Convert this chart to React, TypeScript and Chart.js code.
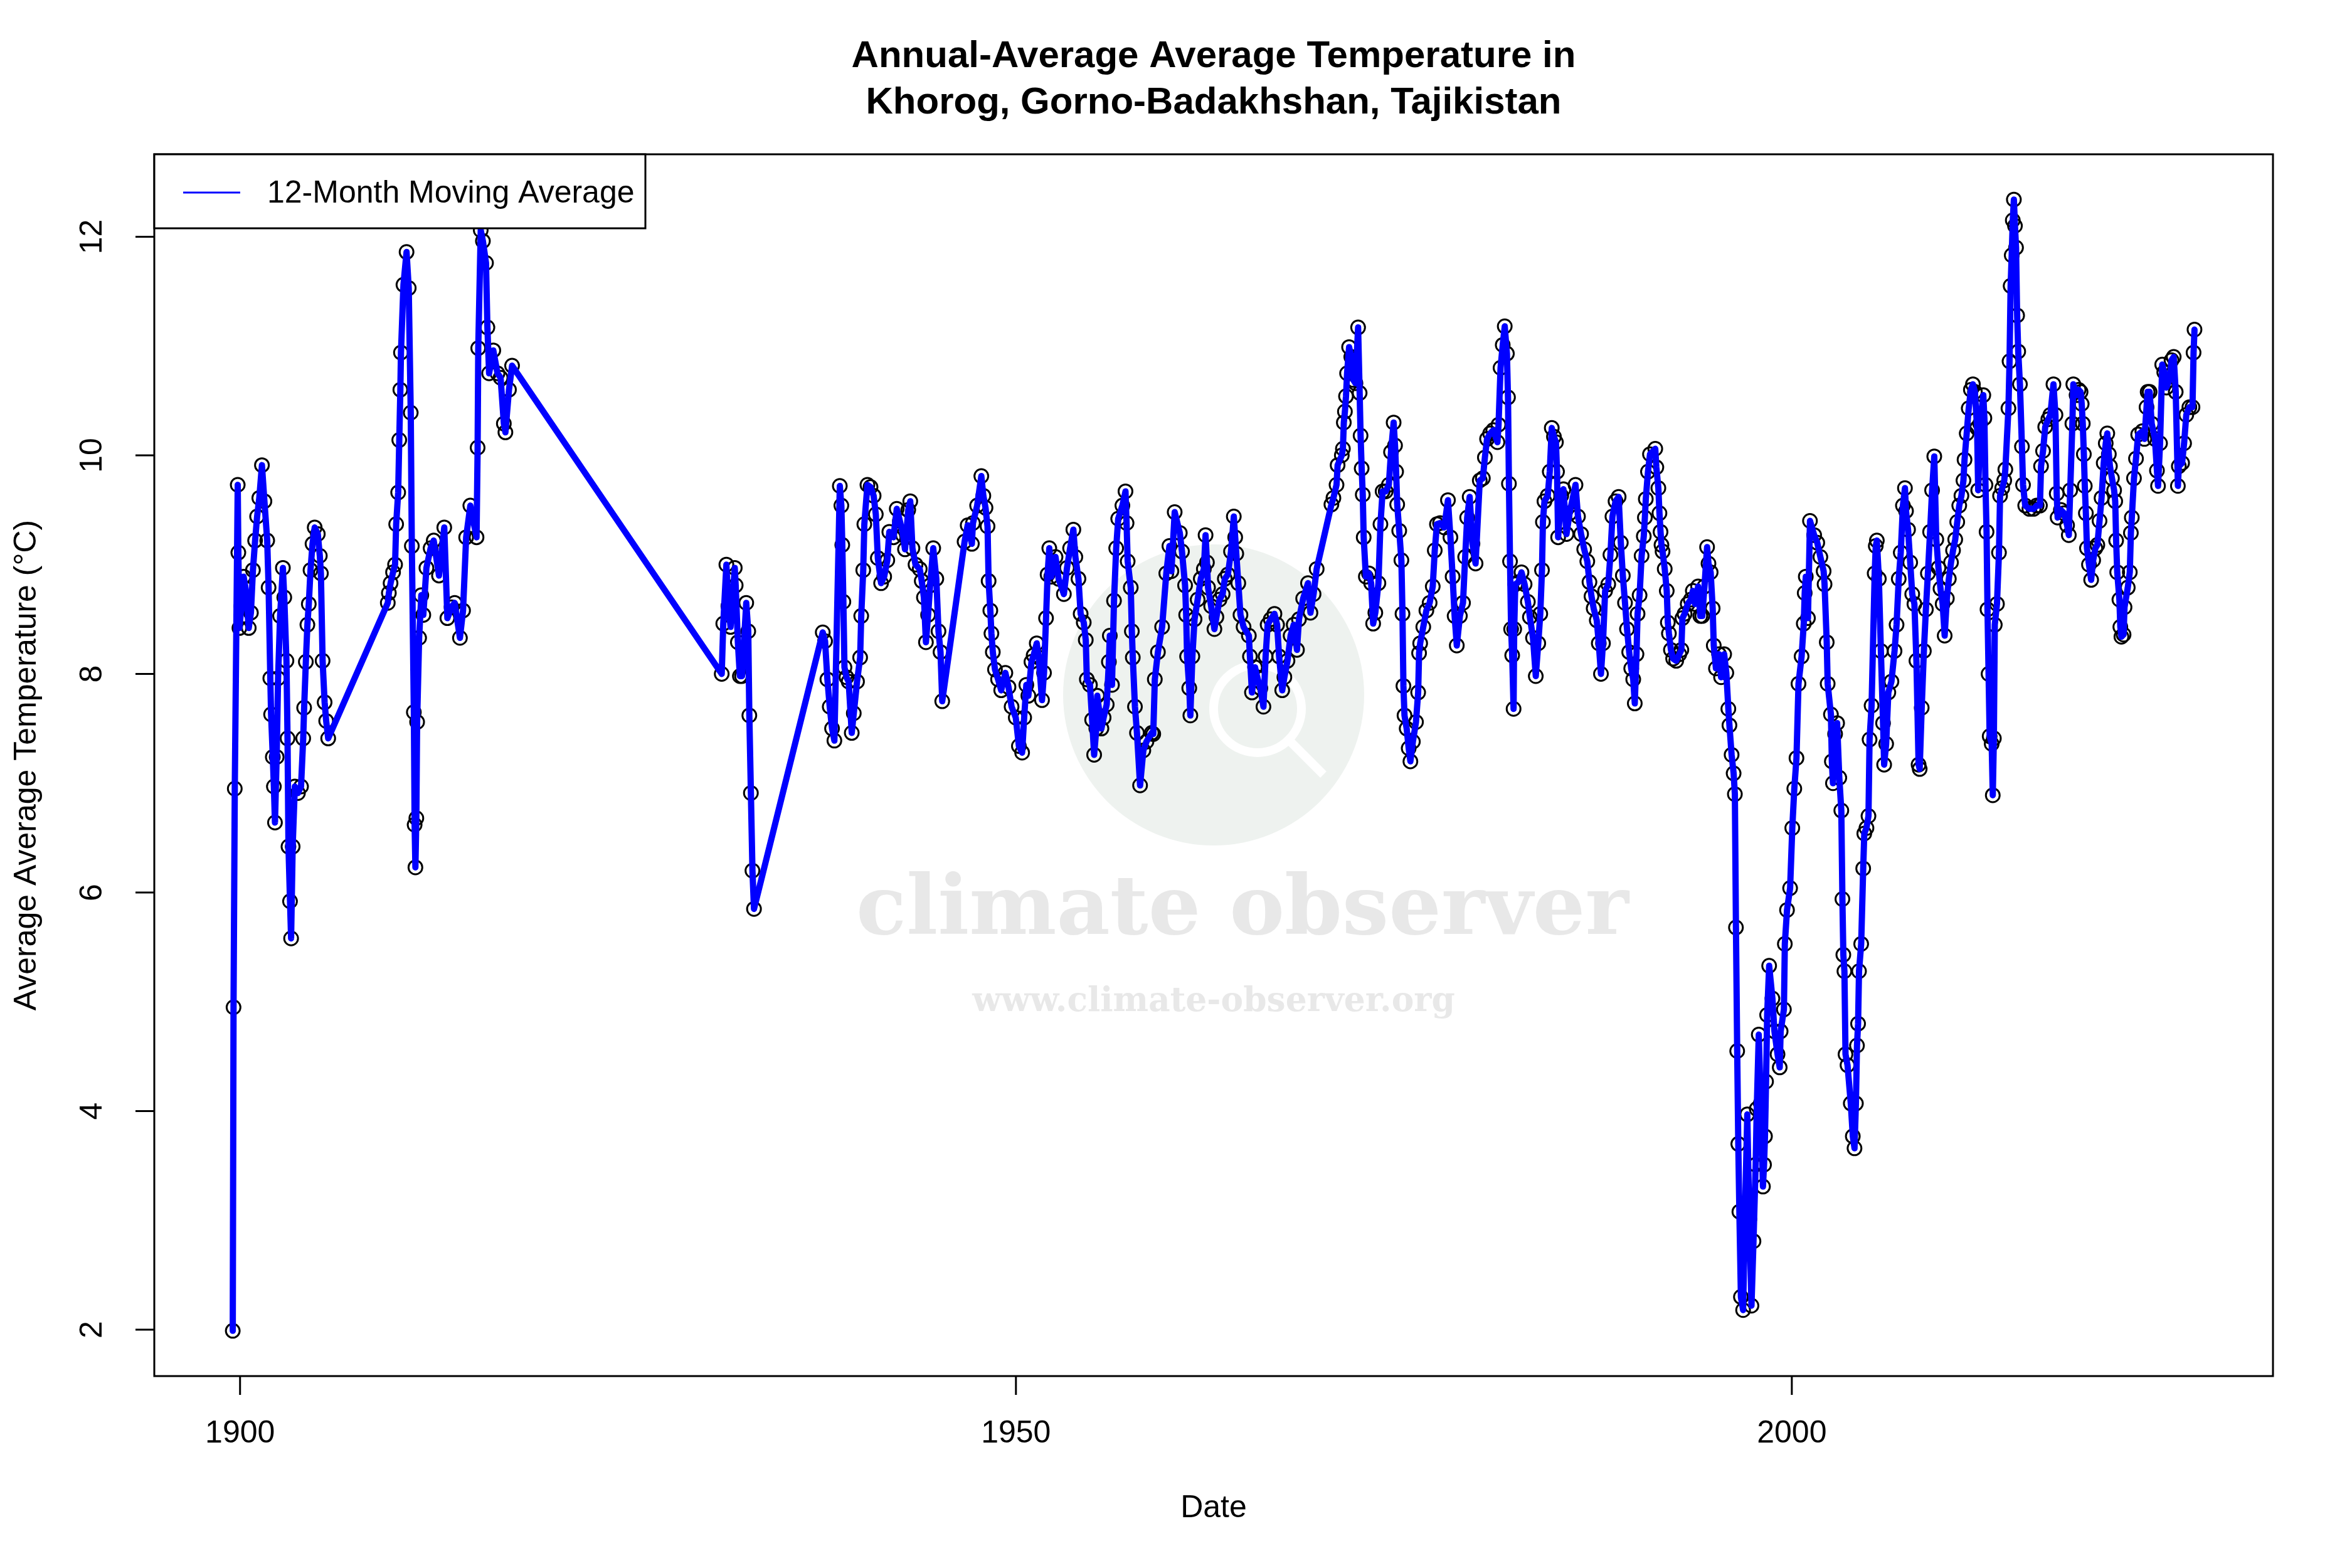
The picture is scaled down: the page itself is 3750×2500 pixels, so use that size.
import { useEffect, useRef } from 'react';
import { Chart, registerables } from 'chart.js';

Chart.register(...registerables);

// ---------- data (decimal year, 12-month moving average in °C) ----------
const dates1899 = [
  1899.53, 1899.58, 1899.66, 1899.85, 1899.89, 1899.96, 1900.09, 1900.23, 1900.36, 1900.56,
  1900.70, 1900.83, 1900.97, 1901.10, 1901.24, 1901.41, 1901.57, 1901.75, 1901.84, 1901.95,
  1902.00, 1902.11, 1902.18, 1902.25, 1902.36, 1902.45, 1902.58, 1902.76, 1902.85, 1902.99,
  1903.06, 1903.12, 1903.22, 1903.29, 1903.39, 1903.53, 1903.73, 1903.93, 1904.07, 1904.13,
  1904.24, 1904.34, 1904.43, 1904.54, 1904.67, 1904.81, 1905.01, 1905.14, 1905.21, 1905.32,
  1905.45, 1905.55, 1905.68,
];
const temps1899 = [
  1.99, 4.95, 6.95, 9.73, 9.11, 8.42, 8.62, 8.89, 8.78, 8.42,
  8.56, 8.95, 9.22, 9.44, 9.61, 9.91, 9.58, 9.22, 8.79, 7.96,
  7.63, 7.24, 6.97, 6.64, 7.24, 7.96, 8.53, 8.97, 8.70, 8.12,
  7.41, 6.42, 5.92, 5.58, 6.42, 6.97, 6.91, 6.97, 7.41, 7.69,
  8.11, 8.45, 8.64, 8.95, 9.19, 9.34, 9.28, 9.08, 8.92, 8.12,
  7.74, 7.57, 7.41,
];

const dates1909 = [
  1909.52, 1909.59, 1909.70, 1909.86, 1909.99, 1910.06, 1910.19, 1910.26, 1910.33, 1910.37,
  1910.53, 1910.73, 1910.87, 1911.00, 1911.07, 1911.20, 1911.25, 1911.30, 1911.36, 1911.41,
  1911.54, 1911.68, 1911.81, 1912.01, 1912.28, 1912.48, 1912.82, 1913.16, 1913.36, 1913.63,
  1913.83, 1914.17, 1914.37, 1914.57, 1914.84, 1915.24, 1915.31, 1915.35, 1915.51, 1915.65,
  1915.85, 1915.94, 1916.05, 1916.32, 1916.59, 1916.79, 1917.00, 1917.10, 1917.33, 1917.53,
];
const temps1909 = [
  8.65, 8.74, 8.83, 8.93, 9.00, 9.37, 9.66, 10.14, 10.60, 10.94,
  11.56, 11.86, 11.53, 10.39, 9.17, 7.65, 6.62, 6.23, 6.68, 7.56,
  8.33, 8.72, 8.54, 8.97, 9.15, 9.22, 8.90, 9.34, 8.51, 8.61,
  8.65, 8.33, 8.58, 9.25, 9.54, 9.25, 10.07, 10.98, 12.06, 11.96,
  11.76, 11.17, 10.75, 10.96, 10.75, 10.71, 10.29, 10.21, 10.60, 10.82,
];

const dates1931 = [
  1931.04, 1931.14, 1931.34, 1931.47, 1931.61, 1931.88, 1931.94, 1932.08, 1932.21, 1932.35,
  1932.62, 1932.75, 1932.82, 1932.92, 1933.02, 1933.12,
];
const temps1931 = [
  8.00, 8.46, 9.00, 8.62, 8.43, 8.97, 8.81, 8.29, 7.98, 7.98,
  8.65, 8.39, 7.62, 6.91, 6.20, 5.85,
];

const dates1937 = [
  1937.55, 1937.70, 1937.85, 1938.00, 1938.15, 1938.30, 1938.65, 1938.75, 1938.81, 1938.88,
  1938.95, 1939.08, 1939.22, 1939.42, 1939.55, 1939.76, 1939.96, 1940.03, 1940.16, 1940.23,
  1940.43, 1940.63, 1940.83, 1940.97, 1941.10, 1941.31, 1941.51, 1941.71, 1941.84, 1942.11,
  1942.32, 1942.52, 1942.72, 1942.85, 1943.06, 1943.19, 1943.33, 1943.53, 1943.80, 1943.93,
  1944.07, 1944.20, 1944.34, 1944.47, 1944.67, 1944.87, 1945.01, 1945.14, 1945.25,
];
const temps1937 = [
  8.38, 8.30, 7.95, 7.70, 7.50, 7.39, 9.72, 9.54, 9.18, 8.66,
  8.06, 7.97, 7.93, 7.46, 7.64, 7.93, 8.15, 8.53, 8.95, 9.37,
  9.73, 9.71, 9.63, 9.46, 9.06, 8.83, 8.89, 9.04, 9.30, 9.25,
  9.51, 9.40, 9.27, 9.14, 9.50, 9.58, 9.15, 9.00, 8.96, 8.85,
  8.70, 8.29, 8.54, 8.81, 9.15, 8.87, 8.39, 8.20, 7.75,
];

const dates1946 = [
  1946.69, 1946.89, 1947.16, 1947.23, 1947.50, 1947.77, 1947.90, 1948.04, 1948.17, 1948.24,
  1948.35, 1948.42, 1948.51, 1948.65, 1948.85, 1949.05, 1949.32, 1949.52, 1949.72, 1949.99,
  1950.19, 1950.40, 1950.53, 1950.67, 1950.80, 1951.00, 1951.14, 1951.34, 1951.47, 1951.68,
  1951.81, 1951.94, 1952.04, 1952.15, 1952.28, 1952.55, 1952.75, 1953.09, 1953.29, 1953.49,
  1953.70, 1953.83, 1954.03, 1954.17, 1954.37, 1954.50, 1954.57, 1954.77, 1954.91, 1955.04,
  1955.18, 1955.24, 1955.51, 1955.65, 1955.85, 1955.99, 1956.05, 1956.19, 1956.32, 1956.46,
  1956.59, 1956.86, 1957.06, 1957.13, 1957.20, 1957.40, 1957.47, 1957.53, 1957.67, 1957.80,
  1958.00, 1958.21, 1958.41, 1958.75, 1958.85, 1958.95, 1959.15, 1959.42, 1959.69, 1959.89,
  1960.02, 1960.23, 1960.56, 1960.70, 1960.90, 1960.97, 1961.03, 1961.17, 1961.24, 1961.37,
  1961.51, 1961.71, 1961.91, 1962.11, 1962.22, 1962.31, 1962.38, 1962.58, 1962.79, 1962.92,
  1963.12, 1963.32, 1963.46, 1963.66, 1963.86, 1964.04, 1964.13, 1964.20, 1964.33, 1964.47,
  1964.67, 1965.01, 1965.08, 1965.21, 1965.41, 1965.55, 1965.75, 1965.95, 1966.09, 1966.22,
  1966.42, 1966.66, 1966.83, 1966.96, 1967.16, 1967.30, 1967.50, 1967.70, 1967.90, 1968.11,
  1968.24, 1968.51, 1968.82, 1968.98, 1969.18, 1969.38,
];
const temps1946 = [
  9.21, 9.36, 9.19, 9.38, 9.54, 9.81, 9.63, 9.52, 9.35, 8.85,
  8.58, 8.37, 8.20, 8.04, 7.95, 7.85, 8.01, 7.88, 7.70, 7.60,
  7.34, 7.28, 7.60, 7.90, 7.80, 8.11, 8.17, 8.28, 8.15, 7.76,
  8.01, 8.51, 8.91, 9.15, 8.89, 9.07, 8.87, 8.73, 8.97, 9.15,
  9.32, 9.07, 8.87, 8.55, 8.47, 8.31, 7.95, 7.90, 7.58, 7.26,
  7.50, 7.80, 7.50, 7.60, 7.72, 8.11, 8.35, 7.90, 8.67, 9.15,
  9.42, 9.54, 9.67, 9.38, 9.03, 8.79, 8.39, 8.15, 7.70, 7.46,
  6.98, 7.30, 7.38, 7.46, 7.45, 7.95, 8.20, 8.43, 8.92, 9.17,
  8.94, 9.48, 9.29, 9.12, 8.81, 8.54, 8.16, 7.87, 7.62, 8.16,
  8.50, 8.68, 8.87, 8.96, 9.27, 9.02, 8.79, 8.62, 8.41, 8.52,
  8.68, 8.73, 8.87, 8.91, 9.12, 9.44, 9.25, 9.10, 8.83, 8.54,
  8.43, 8.35, 8.16, 7.83, 8.06, 7.97, 7.87, 7.70, 8.16, 8.45,
  8.50, 8.55, 8.45, 8.16, 7.85, 7.97, 8.12, 8.35, 8.45, 8.22,
  8.50, 8.69, 8.83, 8.56, 8.73, 8.96,
];

const dates1970 = [
  1970.33, 1970.46, 1970.66, 1970.73, 1971.00, 1971.07, 1971.13, 1971.20, 1971.27, 1971.34,
  1971.47, 1971.61, 1971.74, 1971.88, 1972.05, 1972.15, 1972.21, 1972.28, 1972.35, 1972.41,
  1972.55, 1972.75, 1972.89, 1973.02, 1973.16, 1973.36, 1973.49, 1973.63, 1973.83, 1974.03,
  1974.17, 1974.34, 1974.43, 1974.50, 1974.57, 1974.70, 1974.84, 1974.91, 1974.97, 1975.04,
  1975.18, 1975.31, 1975.42, 1975.58, 1975.78, 1975.92, 1975.98, 1976.05, 1976.25, 1976.45,
  1976.66, 1976.86, 1976.99, 1977.13, 1977.33, 1977.60, 1977.84, 1978.00, 1978.14, 1978.27,
  1978.41, 1978.61, 1978.81, 1978.95, 1979.08, 1979.24, 1979.42, 1979.62, 1979.89, 1980.09,
  1980.22, 1980.36, 1980.56, 1980.76, 1981.03, 1981.10, 1981.23, 1981.37, 1981.50, 1981.64,
  1981.71, 1981.77, 1981.84, 1981.91, 1981.98, 1982.07, 1982.11, 1982.18, 1982.38, 1982.58,
  1982.78, 1982.99, 1983.12, 1983.32, 1983.50, 1983.66, 1983.79, 1983.90, 1983.96, 1984.06,
  1984.27, 1984.40, 1984.53, 1984.67, 1984.80, 1984.87, 1984.94, 1985.14, 1985.28, 1985.48,
  1985.68, 1986.06, 1986.22, 1986.42, 1986.62, 1986.82, 1986.96, 1987.09, 1987.23, 1987.43,
  1987.56, 1987.70, 1987.83, 1987.97, 1988.17, 1988.31, 1988.44, 1988.64, 1988.84, 1988.98,
  1989.11, 1989.25, 1989.38, 1989.52, 1989.65, 1989.78, 1989.88, 1989.99, 1990.06, 1990.19,
  1990.32, 1990.46, 1990.53, 1990.59, 1990.73, 1990.86, 1991.20, 1991.27, 1991.40, 1991.47,
  1991.54, 1991.60, 1991.67, 1991.81, 1991.94, 1992.01, 1992.08, 1992.21, 1992.35, 1992.55,
  1992.75, 1992.88, 1992.95, 1993.09, 1993.29, 1993.49, 1993.62, 1993.76, 1993.96, 1994.10,
  1994.23, 1994.37, 1994.54, 1994.63, 1994.77, 1994.90, 1994.97, 1995.11, 1995.31, 1995.44,
  1995.64, 1995.78, 1995.91, 1995.98, 1996.12, 1996.25,
];
const temps1970 = [
  9.55, 9.61, 9.73, 9.91, 10.00, 10.06, 10.30, 10.40, 10.54, 10.75,
  10.99, 10.90, 10.69, 10.66, 11.17, 10.57, 10.18, 9.88, 9.64, 9.25,
  8.89, 8.92, 8.83, 8.46, 8.56, 8.83, 9.37, 9.67, 9.67, 9.73,
  10.03, 10.30, 10.09, 9.85, 9.55, 9.31, 9.04, 8.55, 7.89, 7.62,
  7.50, 7.32, 7.20, 7.38, 7.56, 7.83, 8.19, 8.28, 8.43, 8.58,
  8.65, 8.80, 9.13, 9.37, 9.38, 9.34, 9.59, 9.25, 8.89, 8.53,
  8.26, 8.53, 8.65, 9.07, 9.43, 9.62, 9.19, 9.01, 9.77, 9.79,
  9.98, 10.15, 10.20, 10.23, 10.12, 10.28, 10.80, 11.01, 11.18, 10.93,
  10.53, 9.74, 9.03, 8.41, 8.17, 7.68, 8.41, 8.82, 8.84, 8.93,
  8.82, 8.66, 8.52, 8.33, 7.98, 8.28, 8.55, 8.95, 9.39, 9.58,
  9.63, 9.85, 10.25, 10.17, 10.12, 9.85, 9.25, 9.63, 9.69, 9.28,
  9.47, 9.73, 9.44, 9.28, 9.14, 9.03, 8.84, 8.71, 8.60, 8.49,
  8.28, 8.00, 8.28, 8.76, 8.82, 9.09, 9.44, 9.58, 9.62, 9.20,
  8.90, 8.65, 8.41, 8.20, 8.05, 7.95, 7.73, 8.18, 8.55, 8.72,
  9.08, 9.26, 9.43, 9.60, 9.85, 10.01, 10.06, 9.89, 9.70, 9.47,
  9.30, 9.18, 9.12, 8.96, 8.76, 8.47, 8.37, 8.22, 8.14, 8.12,
  8.18, 8.22, 8.51, 8.55, 8.64, 8.68, 8.76, 8.64, 8.80, 8.53,
  8.53, 8.80, 9.16, 9.01, 8.93, 8.60, 8.26, 8.05, 8.18, 7.97,
  8.18, 8.01, 7.68, 7.53, 7.26, 7.09,
];

const dates1996 = [
  1996.33, 1996.40, 1996.48, 1996.55, 1996.62, 1996.72, 1996.86, 1996.99, 1997.13, 1997.26,
  1997.40, 1997.53, 1997.67, 1997.74, 1997.87, 1998.00, 1998.14, 1998.21, 1998.27, 1998.34,
  1998.41, 1998.54, 1998.75, 1998.88, 1999.08, 1999.22, 1999.28, 1999.49, 1999.55, 1999.69,
  1999.89, 2000.03, 2000.16, 2000.30, 2000.43, 2000.63, 2000.77, 2000.83, 2000.90, 2001.04,
  2001.17, 2001.44, 2001.64, 2001.84, 2002.05, 2002.11, 2002.25, 2002.31, 2002.52, 2002.58,
  2002.65, 2002.79, 2002.92, 2003.06, 2003.19, 2003.26, 2003.32, 2003.39, 2003.46, 2003.59,
  2003.80, 2003.93, 2004.04, 2004.13, 2004.20, 2004.27, 2004.33, 2004.47, 2004.60, 2004.67,
  2004.81, 2004.94, 2005.01, 2005.14, 2005.34, 2005.41, 2005.48,
];
const temps1996 = [
  6.90, 5.68, 4.55, 3.70, 3.08, 2.30, 2.18, 3.11, 3.97, 3.01,
  2.22, 2.81, 3.51, 4.02, 4.70, 4.07, 3.31, 3.51, 3.77, 4.27,
  4.88, 5.33, 5.03, 4.73, 4.52, 4.40, 4.73, 4.93, 5.53, 5.84,
  6.04, 6.59, 6.95, 7.23, 7.91, 8.16, 8.46, 8.74, 8.89, 8.51,
  9.40, 9.27, 9.20, 9.07, 8.94, 8.82, 8.29, 7.91, 7.63, 7.20,
  7.00, 7.45, 7.55, 7.05, 6.75, 5.94, 5.43, 5.28, 4.52, 4.42,
  4.07, 3.77, 3.66, 4.07, 4.60, 4.80, 5.28, 5.53, 6.22, 6.54,
  6.59, 6.70, 7.40, 7.71, 8.92, 9.17, 9.22,
];

const dates2005 = [
  2005.61, 2005.74, 2005.88, 2005.95, 2006.08, 2006.22, 2006.42, 2006.62, 2006.75, 2006.89,
  2007.02, 2007.16, 2007.29, 2007.36, 2007.49, 2007.63, 2007.76, 2007.90, 2008.03, 2008.17,
  2008.24, 2008.37, 2008.51, 2008.64, 2008.77, 2008.91, 2009.04, 2009.18, 2009.31, 2009.45,
  2009.58, 2009.72, 2009.85, 2009.99, 2010.12, 2010.26, 2010.39, 2010.53, 2010.66, 2010.79,
  2010.93, 2011.06, 2011.13, 2011.27, 2011.40, 2011.54, 2011.67, 2011.80, 2011.94, 2012.01,
  2012.14, 2012.34, 2012.41, 2012.48, 2012.55, 2012.61, 2012.68, 2012.75, 2012.88, 2012.95,
  2013.02, 2013.08, 2013.22, 2013.35, 2013.42, 2013.56, 2013.69, 2013.76, 2013.96, 2014.03,
  2014.10, 2014.17, 2014.24, 2014.31, 2014.38, 2014.45, 2014.52, 2014.59, 2014.70, 2014.83,
  2014.90, 2015.04, 2015.31, 2015.58, 2015.78, 2015.99, 2016.06, 2016.19, 2016.33, 2016.53,
  2016.66, 2016.86, 2016.99, 2017.07, 2017.13, 2017.34, 2017.54, 2017.74, 2017.85, 2017.94,
  2018.08, 2018.14, 2018.35, 2018.48, 2018.61, 2018.68, 2018.75, 2018.82, 2018.88, 2018.95,
  2019.02, 2019.15, 2019.29, 2019.42, 2019.56, 2019.69, 2019.83, 2019.96, 2020.10, 2020.23,
  2020.33, 2020.43, 2020.50, 2020.63, 2020.77, 2020.84, 2020.90, 2020.97, 2021.11, 2021.17,
  2021.24, 2021.38, 2021.44, 2021.65, 2021.78, 2021.85, 2021.91, 2022.05, 2022.18, 2022.32,
  2022.59, 2022.72, 2022.86, 2022.93, 2023.06, 2023.19, 2023.40, 2023.53, 2023.60, 2023.73,
  2023.87, 2024.00, 2024.14, 2024.34, 2024.47, 2024.61, 2024.74, 2024.88, 2024.94, 2025.15,
  2025.28, 2025.42, 2025.62, 2025.82, 2025.89, 2025.95,
];
const temps2005 = [
  8.87, 8.21, 7.55, 7.17, 7.36, 7.83, 7.93, 8.21, 8.45, 8.87,
  9.11, 9.54, 9.70, 9.49, 9.32, 9.02, 8.73, 8.64, 8.12, 7.17,
  7.13, 7.69, 8.21, 8.59, 8.92, 9.30, 9.68, 9.99, 9.23, 8.97,
  8.78, 8.64, 8.35, 8.69, 8.87, 9.02, 9.13, 9.23, 9.39, 9.54,
  9.63, 9.77, 9.96, 10.20, 10.43, 10.60, 10.65, 10.58, 10.25, 9.68,
  10.29, 10.55, 10.34, 9.73, 9.30, 8.59, 8.00, 7.43, 7.36, 6.89,
  7.41, 8.45, 8.64, 9.11, 9.63, 9.70, 9.77, 9.87, 10.43, 10.86,
  11.55, 11.83, 12.15, 12.34, 12.10, 11.90, 11.28, 10.95, 10.65, 10.08,
  9.73, 9.54, 9.51, 9.51, 9.54, 9.54, 9.90, 10.04, 10.26, 10.33,
  10.37, 10.65, 10.37, 9.65, 9.43, 9.50, 9.47, 9.36, 9.27, 9.68,
  10.29, 10.65, 10.55, 10.60, 10.58, 10.47, 10.29, 10.01, 9.72, 9.47,
  9.15, 9.00, 8.86, 9.04, 9.15, 9.18, 9.40, 9.61, 9.93, 10.11,
  10.20, 10.01, 9.90, 9.79, 9.68, 9.58, 9.22, 8.93, 8.68, 8.43,
  8.34, 8.36, 8.61, 8.79, 8.93, 9.29, 9.43, 9.79, 9.97, 10.19,
  10.22, 10.15, 10.44, 10.58, 10.58, 10.29, 10.15, 9.86, 9.72, 10.11,
  10.83, 10.76, 10.62, 10.69, 10.87, 10.90, 10.58, 9.72, 9.90, 9.93,
  10.11, 10.37, 10.44, 10.44, 10.94, 11.15,
];

const xTicks = [1900, 1950, 2000];
const yTicks = [2, 4, 6, 8, 10, 12];
const titleLines = ['Annual-Average Average Temperature in', 'Khorog, Gorno-Badakhshan, Tajikistan'];
const xLabel = 'Date';
const yLabel = 'Average Average Temperature (°C)';
const legendLabel = '12-Month Moving Average';
const watermarkTitle = 'climate observer';
const watermarkUrl = 'www.climate-observer.org';

const dates = [...dates1899, ...dates1909, ...dates1931, ...dates1937, ...dates1946, ...dates1970, ...dates1996, ...dates2005];
const temps = [...temps1899, ...temps1909, ...temps1931, ...temps1937, ...temps1946, ...temps1970, ...temps1996, ...temps2005];

const FONT = '"Liberation Sans", Arial, Helvetica, sans-serif';

export default function App() {
  const ref = useRef<HTMLCanvasElement | null>(null);

  useEffect(() => {
    document.body.style.margin = '0';
    const canvas = ref.current;
    if (!canvas) return;

    const pts = dates.map((d, i) => ({ x: d, y: temps[i] }));
    const xMin0 = Math.min(...dates);
    const xMax0 = Math.max(...dates);
    const yMin0 = Math.min(...temps);
    const yMax0 = Math.max(...temps);
    const xPad = (xMax0 - xMin0) * 0.04;
    const yPad = (yMax0 - yMin0) * 0.04;

    const rPlugin = {
      id: 'rstyle',
      beforeDraw(chart: any) {
        const ctx = chart.ctx;
        ctx.save();
        ctx.fillStyle = '#ffffff';
        ctx.fillRect(0, 0, chart.width, chart.height);
        ctx.restore();
      },
      beforeDatasetsDraw(chart: any) {
        const ctx = chart.ctx;
        const a = chart.chartArea;
        const cx = (a.left + a.right) / 2;
        ctx.save();
        // watermark logo circle
        ctx.fillStyle = '#eef2ef';
        ctx.beginPath();
        ctx.arc(cx, 1108, 240, 0, Math.PI * 2);
        ctx.fill();
        // faint white magnifier motif inside the logo
        ctx.strokeStyle = '#ffffff';
        ctx.lineWidth = 14;
        ctx.beginPath();
        ctx.arc(cx + 70, 1130, 70, 0, Math.PI * 2);
        ctx.stroke();
        ctx.beginPath();
        ctx.moveTo(cx + 120, 1180);
        ctx.lineTo(cx + 175, 1235);
        ctx.stroke();
        // watermark text
        ctx.fillStyle = '#e8e8e8';
        ctx.textAlign = 'center';
        ctx.textBaseline = 'middle';
        ctx.font = `bold 100px "DejaVu Serif", serif`;
        let w = ctx.measureText(watermarkTitle).width;
        let fs = 100 * 1232 / w;
        ctx.font = `bold ${fs}px "DejaVu Serif", serif`;
        ctx.fillText(watermarkTitle, 1981, 1455);
        ctx.font = `bold 40px "DejaVu Serif", serif`;
        w = ctx.measureText(watermarkUrl).width;
        fs = 40 * 770 / w;
        ctx.font = `bold ${fs}px "DejaVu Serif", serif`;
        ctx.fillText(watermarkUrl, 1935, 1598);
        ctx.restore();
      },
      afterDraw(chart: any) {
        const ctx = chart.ctx;
        const a = chart.chartArea;
        const xs = chart.scales.x;
        const ys = chart.scales.y;
        ctx.save();
        ctx.strokeStyle = '#000000';
        ctx.lineWidth = 3;
        ctx.strokeRect(a.left, a.top, a.right - a.left, a.bottom - a.top);
        ctx.beginPath();
        xTicks.forEach((t) => {
          const p = xs.getPixelForValue(t);
          ctx.moveTo(p, a.bottom);
          ctx.lineTo(p, a.bottom + 30);
        });
        yTicks.forEach((v) => {
          const p = ys.getPixelForValue(v);
          ctx.moveTo(a.left, p);
          ctx.lineTo(a.left - 30, p);
        });
        ctx.stroke();

        ctx.fillStyle = '#000000';
        ctx.font = `50px ${FONT}`;
        ctx.textAlign = 'center';
        ctx.textBaseline = 'middle';
        xTicks.forEach((t) => ctx.fillText(String(t), xs.getPixelForValue(t), a.bottom + 92));
        yTicks.forEach((v) => {
          ctx.save();
          ctx.translate(a.left - 98, ys.getPixelForValue(v));
          ctx.rotate(-Math.PI / 2);
          ctx.fillText(String(v), 0, 0);
          ctx.restore();
        });

        // axis titles
        ctx.fillText(xLabel, (a.left + a.right) / 2, 2405);
        ctx.save();
        ctx.translate(43, (a.top + a.bottom) / 2);
        ctx.rotate(-Math.PI / 2);
        ctx.fillText(yLabel, 0, 0);
        ctx.restore();

        // title
        ctx.font = `bold 60px ${FONT}`;
        ctx.fillText(titleLines[0], (a.left + a.right) / 2, 90);
        ctx.fillText(titleLines[1], (a.left + a.right) / 2, 164);

        // legend
        const lx0 = a.left;
        const ly0 = a.top;
        const lx1 = 1029;
        const ly1 = 364;
        ctx.fillStyle = '#ffffff';
        ctx.fillRect(lx0, ly0, lx1 - lx0, ly1 - ly0);
        ctx.strokeStyle = '#000000';
        ctx.lineWidth = 3;
        ctx.strokeRect(lx0, ly0, lx1 - lx0, ly1 - ly0);
        ctx.strokeStyle = '#0000ff';
        ctx.lineWidth = 3;
        ctx.beginPath();
        ctx.moveTo(292, 307);
        ctx.lineTo(383, 307);
        ctx.stroke();
        ctx.fillStyle = '#000000';
        ctx.font = `50px ${FONT}`;
        ctx.textAlign = 'left';
        ctx.fillText(legendLabel, 426, 309);
        ctx.restore();
      },
    };

    const chart = new Chart(canvas, {
      type: 'line',
      data: {
        datasets: [
          {
            label: legendLabel,
            data: pts,
            borderColor: '#0000ff',
            borderWidth: 10,
            borderJoinStyle: 'round',
            borderCapStyle: 'round',
            pointRadius: 0,
            fill: false,
            tension: 0,
            order: 1,
          } as any,
          {
            type: 'scatter',
            label: 'points',
            data: pts,
            showLine: false,
            pointRadius: 11,
            pointBorderWidth: 3,
            pointBorderColor: '#000000',
            pointBackgroundColor: 'rgba(0,0,0,0)',
            pointHoverRadius: 11,
            order: 2,
          } as any,
        ],
      },
      options: {
        animation: false,
        responsive: false,
        devicePixelRatio: 1,
        events: [],
        layout: { padding: { left: 246, right: 126, top: 246, bottom: 306 } },
        scales: {
          x: { type: 'linear', min: xMin0 - xPad, max: xMax0 + xPad, display: false },
          y: { type: 'linear', min: yMin0 - yPad, max: yMax0 + yPad, display: false },
        },
        plugins: {
          legend: { display: false },
          tooltip: { enabled: false },
          title: { display: false },
        },
      },
      plugins: [rPlugin],
    });

    return () => chart.destroy();
  }, []);

  return (
    <div style={{ width: 3750, height: 2500 }}>
      <canvas ref={ref} width={3750} height={2500} style={{ display: 'block', width: 3750, height: 2500 }} />
    </div>
  );
}
